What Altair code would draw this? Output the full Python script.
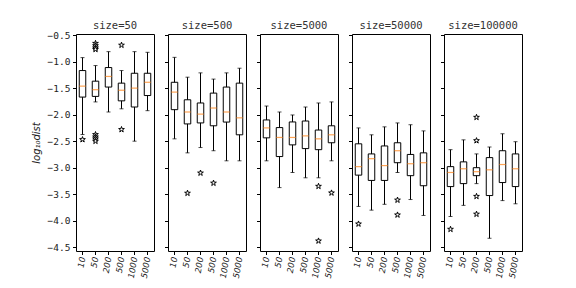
import altair as alt
import pandas as pd

sizes = [50, 500, 5000, 50000, 100000]
groups = ["10", "50", "200", "500", "1000", "5000"]

# box statistics per panel (order of groups), log10 values
whislo = [
    [-2.375, -1.76, -1.95, -1.89, -2.50, -1.925],
    [-2.456, -2.72, -2.62, -2.68, -2.87, -2.87],
    [-2.87, -3.375, -3.09, -3.19, -3.19, -2.87],
    [-3.73, -3.80, -3.69, -3.09, -3.60, -3.90],
    [-3.92, -3.71, -3.30, -4.33, -3.62, -3.68],
]
q1 = [
    [-1.669, -1.656, -1.48, -1.74, -1.856, -1.64],
    [-1.906, -2.175, -2.156, -2.21, -2.14, -2.38],
    [-2.4375, -2.79, -2.57, -2.64, -2.66, -2.53],
    [-3.14, -3.24, -3.24, -2.906, -3.15, -3.34],
    [-3.356, -3.30, -3.15, -3.525, -3.28, -3.356],
]
med = [
    [-1.4625, -1.53, -1.28, -1.54, -1.50, -1.39],
    [-1.575, -1.95, -1.99, -1.875, -1.95, -2.06],
    [-2.25, -2.43, -2.43, -2.40, -2.456, -2.38],
    [-2.98, -2.83, -2.96, -2.68, -2.925, -2.906],
    [-3.09, -3.02, -3.075, -3.04, -2.94, -3.02],
]
q3 = [
    [-1.169, -1.369, -1.1125, -1.406, -1.22, -1.22],
    [-1.39, -1.72, -1.78, -1.594, -1.48, -1.406],
    [-2.10, -2.244, -2.1375, -2.12, -2.29, -2.21],
    [-2.55, -2.74, -2.59, -2.53, -2.75, -2.72],
    [-2.98, -2.89, -3.00, -2.81, -2.68, -2.74],
]
whishi = [
    [-0.925, -1.075, -0.8125, -1.169, -0.8125, -0.825],
    [-0.92, -1.294, -1.2125, -1.33, -1.2125, -1.125],
    [-1.8375, -1.95, -2.006, -1.856, -1.78, -1.76],
    [-2.25, -2.38, -2.23, -2.156, -2.19, -2.306],
    [-2.66, -2.475, -2.74, -2.61, -2.36, -2.51],
]
# outliers: (panel size, group, value)
out_size = [50, 50, 50, 50, 50, 50, 50, 50, 50, 50, 50,
            500, 500, 500,
            5000, 5000, 5000,
            50000, 50000, 50000,
            100000, 100000, 100000, 100000, 100000]
out_group = ["10", "50", "50", "50", "50", "50", "50", "50", "50", "500", "500",
             "50", "200", "500",
             "1000", "1000", "5000",
             "10", "500", "500",
             "10", "200", "200", "200", "200"]
out_value = [-2.47, -0.656, -0.70, -0.74, -0.77, -2.375, -2.42, -2.456, -2.50, -0.69, -2.28,
             -3.48, -3.10, -3.29,
             -3.35, -4.38, -3.475,
             -4.06, -3.61, -3.89,
             -4.16, -2.05, -2.49, -3.54, -3.875]

STAR = ("M0,-1L0.225,-0.309L0.951,-0.309L0.363,0.118L0.588,0.809L0,0.382"
        "L-0.588,0.809L-0.363,0.118L-0.951,-0.309L-0.225,-0.309Z")

yvals = [-0.5, -1.0, -1.5, -2.0, -2.5, -3.0, -3.5, -4.0, -4.5]
ydom = [-4.57, -0.48]

W, H = 78, 217
panels = []
for i, s in enumerate(sizes):
    box = pd.DataFrame({
        "group": groups,
        "whislo": whislo[i], "q1": q1[i], "med": med[i],
        "q3": q3[i], "whishi": whishi[i],
    })
    outs = pd.DataFrame({
        "group": [g for g, z in zip(out_group, out_size) if z == s],
        "value": [v for v, z in zip(out_value, out_size) if z == s],
    })
    first = i == 0
    xsc = alt.Scale(domain=groups, paddingInner=0, paddingOuter=0)
    xaxis = alt.Axis(labelAngle=280, labelFontStyle="italic",
                     labelFont="DejaVu Sans", labelFontSize=8.5,
                     labelColor="#222222", tickSize=3.5, labelPadding=2,
                     domain=False, tickColor="black", labelOverlap=False)
    xenc = alt.X("group:N", sort=groups, title=None, scale=xsc, axis=xaxis)
    yaxis = alt.Axis(values=yvals, format=".1f", labels=first, tickSize=3.5,
                     labelPadding=2.5, domain=False, tickColor="black", grid=False,
                     labelOverlap=False,
                     labelFont="DejaVu Sans Mono", labelFontSize=9.5, labelColor="#222222",
                     title="log₁₀dist" if first else None,
                     titleFontStyle="italic", titleFont="DejaVu Sans",
                     titleFontWeight="normal", titleFontSize=10, titlePadding=6,
                     titleColor="#222222")
    ysc = alt.Scale(domain=ydom, nice=False, zero=False)

    def Y(field):
        return alt.Y(field, scale=ysc, axis=yaxis)

    base = alt.Chart(box).encode(x=xenc)
    whisk = base.mark_rule(color="black", strokeWidth=1).encode(y=Y("whislo:Q"), y2="whishi:Q")
    caplo = base.mark_tick(color="black", thickness=1, size=4).encode(y=Y("whislo:Q"))
    caphi = base.mark_tick(color="black", thickness=1, size=4).encode(y=Y("whishi:Q"))
    boxes = base.mark_bar(size=6.5, fill="white", stroke="black", strokeWidth=1).encode(
        y=Y("q1:Q"), y2="q3:Q")
    meds = base.mark_tick(color="#ff7f0e", thickness=1.2, size=6.5).encode(y=Y("med:Q"))
    pts = alt.Chart(outs).mark_point(shape=STAR, size=36, filled=True, fill="white",
                                     stroke="black", strokeWidth=1, opacity=1).encode(
        x=xenc, y=Y("value:Q"))
    layer = alt.layer(whisk, caplo, caphi, boxes, meds, pts).properties(
        width=W, height=H,
        title=alt.TitleParams(f"size={s}", font="DejaVu Sans Mono", fontSize=10.5,
                              fontWeight="normal", color="#333333",
                              offset=-1 if first else 3))
    panels.append(layer)

chart = alt.hconcat(*panels, spacing=8).properties(
    padding={"left": 22, "top": 12, "right": 5, "bottom": 5}
).configure_view(stroke="black", strokeWidth=1).configure_title(
    fontWeight="normal", font="DejaVu Sans Mono", fontSize=10.5
)

chart.save("out.html", embed_options={"renderer": "svg", "actions": False})
